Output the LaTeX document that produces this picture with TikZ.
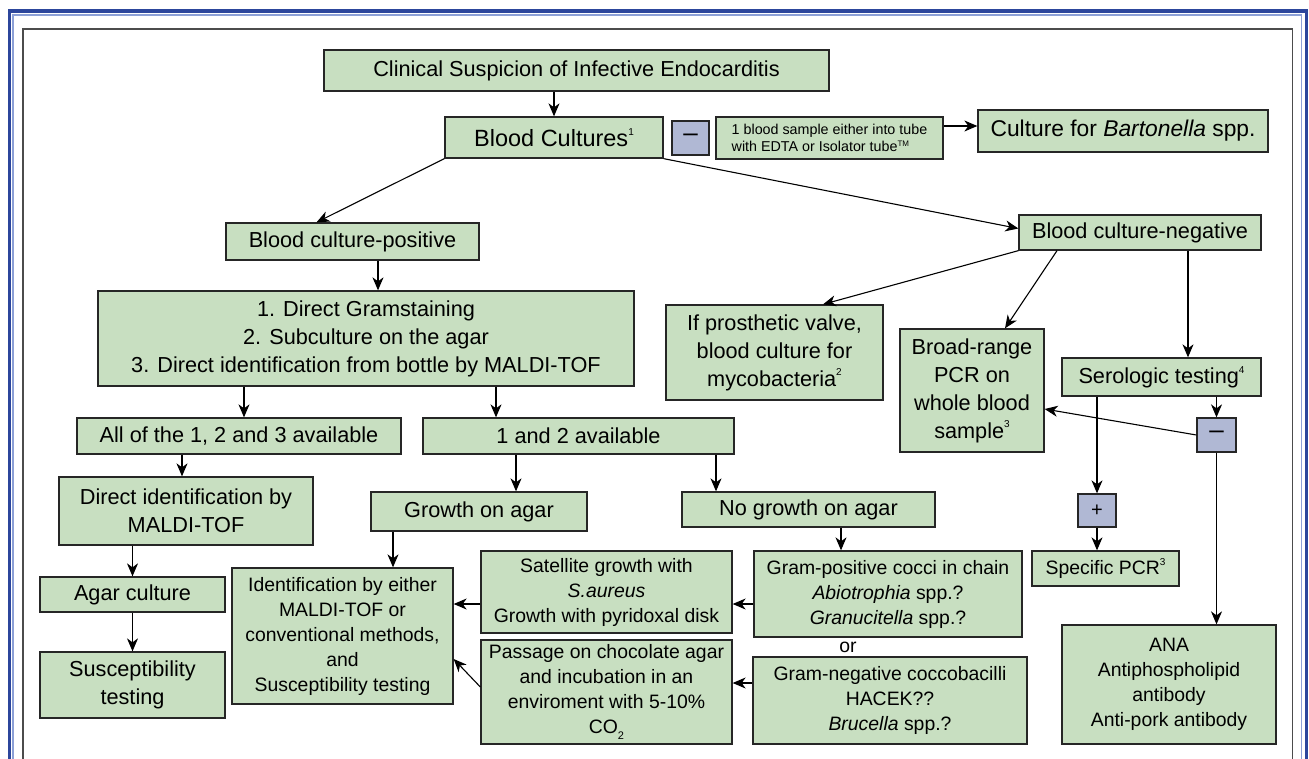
\documentclass[tikz,border=0pt]{standalone}
\usepackage{fontspec}
\setmainfont{Liberation Sans}
\usetikzlibrary{arrows.meta}
\definecolor{boxgreen}{RGB}{200,223,193}
\definecolor{signblue}{RGB}{176,184,212}
\definecolor{framedark}{RGB}{44,70,156}
\definecolor{framelight}{RGB}{140,160,215}
\newcommand{\bigtxt}{\fontsize{21.7}{28}\selectfont}
\newcommand{\smalltxt}{\fontsize{19.4}{25}\selectfont}
\newcommand{\tinytxt}{\fontsize{14.3}{17.5}\selectfont}
\newcommand{\supnum}[1]{\raisebox{0.9ex}{\fontsize{10}{10}\selectfont #1}}

\begin{document}
\begin{tikzpicture}[x=1pt, y=-1pt,
    box/.style={draw=black!85, line width=1.3pt, fill=boxgreen, inner sep=0pt, align=center, font=\bigtxt},
    smallbox/.style={box, font=\smalltxt},
    signbox/.style={draw=black!85, line width=1.3pt, fill=signblue, inner sep=0pt, font=\fontsize{26}{26}\selectfont},
    arr/.style={line width=1.1pt, -{Stealth[length=13pt,width=11pt,inset=4pt]}}]
    \useasboundingbox (0,0) rectangle (1309,759);
    \clip (0,0) rectangle (1309,759);
        \draw[framedark, line width=3.6pt] (9.5,800) |- (1306.5,11.3) -- (1306.5,800);
        \draw[framelight, line width=1.4pt] (12.8,800) |- (1301.7,15) -- (1301.7,800);
        \draw[black!70, line width=1.3pt] (23,800) |- (1292.7,29) -- (1292.7,800);

        \node[box, minimum width=505pt, minimum height=41pt] (clin) at (576.5,70.5) {Clinical Suspicion of Infective Endocarditis};
        \node[box, minimum width=218pt, minimum height=41pt, font=\fontsize{23.5}{28}\selectfont] (bc) at (554,137.5) {Blood Cultures\supnum{1}};
        \node[signbox, minimum width=37pt, minimum height=34pt] (neg1) at (690.5,138) {\textendash};
        \node[box, minimum width=227pt, minimum height=42pt, align=left, font=\tinytxt] (tube) at (829.5,138) {1 blood sample either into tube\\with EDTA or Isolator tube\raisebox{0.7ex}{\fontsize{8}{8}\selectfont TM}};
        \node[box, minimum width=290pt, minimum height=42pt, font=\fontsize{22.8}{28}\selectfont] (bart) at (1123,131) {Culture for \textit{Bartonella} spp.};
        \node[box, minimum width=253pt, minimum height=37pt] (bcpos) at (352.5,241.5) {Blood culture-positive};
        \node[box, minimum width=242pt, minimum height=35pt] (bcneg) at (1140,232.5) {Blood culture-negative};
        \node[box, minimum width=536pt, minimum height=95pt] (steps) at (366,338.5) {1. Direct Gramstaining\\2. Subculture on the agar\\3. Direct identification from bottle by MALDI-TOF};
        \node[box, minimum width=217pt, minimum height=95pt] (prost) at (774.5,352.5) {If prosthetic valve,\\blood culture for\\mycobacteria\supnum{2}};
        \node[box, minimum width=144pt, minimum height=123pt] (broad) at (972,390.5) {Broad-range\\PCR on\\whole blood\\sample\supnum{3}};
        \node[box, minimum width=199pt, minimum height=38pt] (sero) at (1161.5,377) {Serologic testing\supnum{4}};
        \node[signbox, minimum width=39pt, minimum height=34pt] (neg2) at (1216.5,435) {\textendash};
        \node[signbox, minimum width=38pt, minimum height=33pt, font=\fontsize{20}{20}\selectfont] (pos2) at (1097,510.5) {+};
        \node[smallbox, minimum width=147pt, minimum height=35pt] (spcr) at (1105.5,568.5) {Specific PCR\supnum{3}};
        \node[smallbox, minimum width=214pt, minimum height=119pt] (ana) at (1169,684.5) {ANA\\Antiphospholipid\\antibody\\Anti-pork antibody};
        \node[box, minimum width=324pt, minimum height=36pt] (all3) at (239,436) {All of the 1, 2 and 3 available};
        \node[box, minimum width=311pt, minimum height=36pt] (one2) at (578.5,436) {1 and 2 available};
        \node[box, minimum width=254pt, minimum height=68pt] (dirid) at (186,511) {Direct identification by\\MALDI-TOF};
        \node[box, minimum width=185pt, minimum height=35pt] (agar) at (132.5,594.5) {Agar culture};
        \node[box, minimum width=185pt, minimum height=66pt] (susc) at (132.5,685) {Susceptibility\\testing};
        \node[box, minimum width=216pt, minimum height=39pt] (grow) at (479,511.5) {Growth on agar};
        \node[box, minimum width=253pt, minimum height=35pt] (nogrow) at (808.5,509.5) {No growth on agar};
        \node[smallbox, minimum width=221pt, minimum height=136pt] (ident) at (342.5,636) {Identification by either\\MALDI-TOF or\\conventional methods,\\and\\Susceptibility testing};
        \node[smallbox, minimum width=251pt, minimum height=82pt] (sat) at (606.5,592) {Satellite growth with\\\textit{S.aureus}\\Growth with pyridoxal disk};
        \node[smallbox, minimum width=251pt, minimum height=104pt] (pas) at (606.5,692) {Passage on chocolate agar\\and incubation in an\\enviroment with 5-10\%\\CO\raisebox{-0.5ex}{\fontsize{11}{11}\selectfont 2}};
        \node[smallbox, minimum width=268pt, minimum height=86pt] (gpos) at (888,594) {Gram-positive cocci in chain\\\textit{Abiotrophia} spp.?\\\textit{Granucitella} spp.?};
        \node[font=\smalltxt, inner sep=0pt] (or) at (848,647) {or};
        \node[smallbox, minimum width=274pt, minimum height=87pt] (gneg) at (890,700.5) {Gram-negative coccobacilli\\HACEK??\\\textit{Brucella} spp.?};

        \draw[arr] (bc.north |- clin.south) -- (bc.north);
        \draw[arr] ([yshift=12pt]tube.east) -- ([yshift=5pt]bart.west);
        \draw[arr] (bc.south west) -- ([xshift=-36pt]bcpos.north);
        \draw[arr] (bc.south east) -- ([yshift=4pt]bcneg.west);
        \draw[arr] ([xshift=25.5pt]bcpos.south) -- ([xshift=25.5pt]bcpos.south |- steps.north);
        \draw[arr] (steps.south -| 244,0) -- (all3.north -| 244,0);
        \draw[arr] (steps.south -| 496,0) -- (one2.north -| 496,0);
        \draw[arr] (bcneg.south west) -- ([xshift=48.5pt]prost.north);
        \draw[arr] (bcneg.south -| 1057,0) -- ([xshift=33pt]broad.north);
        \draw[arr] (bcneg.south -| 1188,0) -- (sero.north -| 1188,0);
        \draw[arr] (sero.south -| neg2.north) -- (neg2.north);
        \draw[arr] (sero.south -| pos2.north) -- (pos2.north);
        \draw[arr] (neg2.west) -- ([yshift=-18.5pt]broad.east);
        \draw[arr] (neg2.south) -- (neg2.south |- ana.north);
        \draw[arr] (pos2.south) -- (pos2.south |- spcr.north);
        \draw[arr] (all3.south -| 182,0) -- (dirid.north -| 182,0);
        \draw[arr] (dirid.south -| agar.north) -- (agar.north);
        \draw[arr] (agar.south) -- (susc.north);
        \draw[arr] (one2.south -| 516,0) -- (grow.north -| 516,0);
        \draw[arr] (one2.south -| 716,0) -- (nogrow.north -| 716,0);
        \draw[arr] (grow.south -| 393,0) -- (ident.north -| 393,0);
        \draw[arr] (nogrow.south -| 841,0) -- (gpos.north -| 841,0);
        \draw[arr] (gpos.west |- 0,604) -- (sat.east |- 0,604);
        \draw[arr] (sat.west |- 0,604) -- (ident.east |- 0,604);
        \draw[arr] (gneg.west |- 0,683) -- (pas.east |- 0,683);
        \draw[arr] (pas.west |- 0,687) -- (ident.east |- 0,659);
    \end{tikzpicture}
\end{document}
